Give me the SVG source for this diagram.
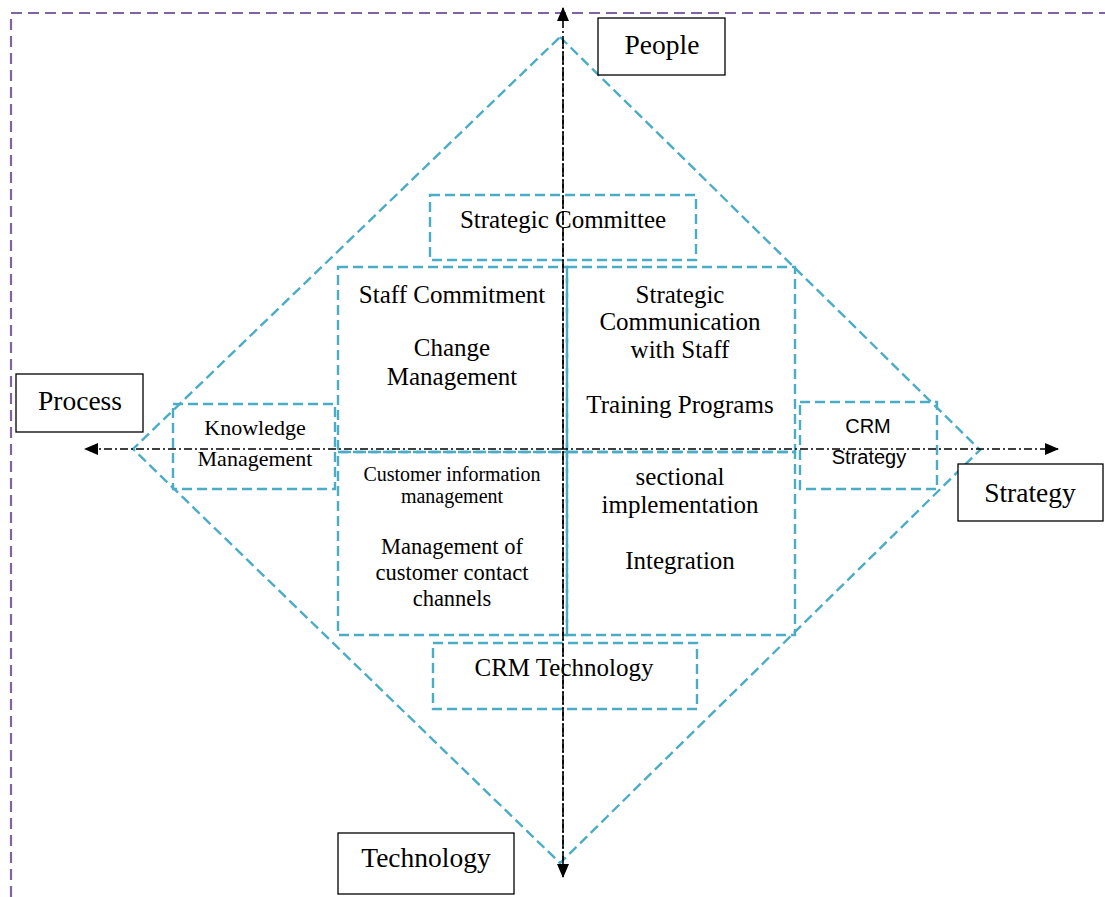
<svg xmlns="http://www.w3.org/2000/svg" width="1105" height="897" viewBox="0 0 1105 897">
<defs>
<style>
.frame{fill:none;stroke:#8064a2;stroke-width:2.2;stroke-dasharray:11 6}
.teal{fill:none;stroke:#4bacc6;stroke-width:2.4;stroke-dasharray:10 5}
.axis{fill:none;stroke:#000;stroke-width:1.6;stroke-dasharray:8 3 2 3}
.box{fill:#fff;stroke:#000;stroke-width:1.3}
.t{font-family:"Liberation Serif","Times New Roman",serif;fill:#000;text-anchor:middle}
.s{font-family:"Liberation Sans",Arial,sans-serif;fill:#000;text-anchor:middle}
</style>
<marker id="arr" viewBox="0 0 14 12" refX="13" refY="6" markerWidth="14" markerHeight="12" markerUnits="userSpaceOnUse" orient="auto">
<path d="M0,0 L14,6 L0,12 Z" fill="#000"/>
</marker>
</defs>
<rect width="1105" height="897" fill="#fff"/>
<path class="frame" d="M11,897 L11,13 L1105,13"/>
<polygon id="diamond" class="teal" points="560,37 980,450 560,863 133,449"/>

<g id="quad-tl">
<rect class="teal" x="338" y="267" width="229" height="185"/>
<text class="t" font-size="25" x="452" y="303">Staff Commitment</text>
<text class="t" font-size="25" x="452" y="356">Change</text>
<text class="t" font-size="25" x="452" y="385">Management</text>
</g>
<g id="quad-tr">
<rect class="teal" x="567" y="267" width="228" height="185"/>
<text class="t" font-size="25" x="680" y="303">Strategic</text>
<text class="t" font-size="25" x="680" y="330">Communication</text>
<text class="t" font-size="25" x="680" y="358">with Staff</text>
<text class="t" font-size="25" x="680" y="413">Training Programs</text>
</g>
<g id="quad-bl">
<rect class="teal" x="338" y="452" width="229" height="183"/>
<text class="t" font-size="20" x="452" y="481">Customer information</text>
<text class="t" font-size="20" x="452" y="503">management</text>
<text class="t" font-size="22.5" x="452" y="554">Management of</text>
<text class="t" font-size="22.5" x="452" y="580">customer contact</text>
<text class="t" font-size="22.5" x="452" y="606">channels</text>
</g>
<g id="quad-br">
<rect class="teal" x="567" y="452" width="228" height="183"/>
<text class="t" font-size="25" x="680" y="485">sectional</text>
<text class="t" font-size="25" x="680" y="513">implementation</text>
<text class="t" font-size="25" x="680" y="569">Integration</text>
</g>
<g id="strategic-committee">
<rect class="teal" x="430" y="195" width="266" height="65"/>
<text class="t" font-size="25" x="563" y="228">Strategic Committee</text>
</g>
<g id="crm-technology">
<rect class="teal" x="433" y="643" width="264" height="66"/>
<text class="t" font-size="25" x="564" y="676">CRM Technology</text>
</g>
<g id="knowledge-management">
<rect class="teal" x="173" y="404" width="162" height="85"/>
<text class="t" font-size="22" x="255" y="435">Knowledge</text>
<text class="t" font-size="22" x="255" y="466">Management</text>
</g>
<g id="crm-strategy">
<rect class="teal" x="800" y="402" width="137" height="87"/>
<text class="s" font-size="20" x="868" y="433">CRM</text>
<text class="s" font-size="20" x="869" y="464">Strategy</text>
</g>

<g id="people">
<rect class="box" x="598" y="18" width="127" height="57"/>
<text class="t" font-size="27.5" x="662" y="54">People</text>
</g>
<g id="process">
<rect class="box" x="16" y="374" width="127" height="58"/>
<text class="t" font-size="27.5" x="80" y="410">Process</text>
</g>
<g id="strategy">
<rect class="box" x="958" y="464" width="145" height="57"/>
<text class="t" font-size="27.5" x="1030" y="502">Strategy</text>
</g>
<g id="technology">
<rect class="box" x="338" y="833" width="176" height="61"/>
<text class="t" font-size="27.5" x="426" y="867">Technology</text>
</g>

<g id="connectors">
<line class="axis" x1="563" y1="860" x2="563" y2="8" marker-end="url(#arr)"/>
<line class="axis" x1="563" y1="40" x2="563" y2="877" marker-end="url(#arr)"/>
<line class="axis" x1="560" y1="449" x2="85" y2="449" marker-end="url(#arr)"/>
<line class="axis" x1="560" y1="449" x2="1058" y2="449" marker-end="url(#arr)"/>
</g>
</svg>
